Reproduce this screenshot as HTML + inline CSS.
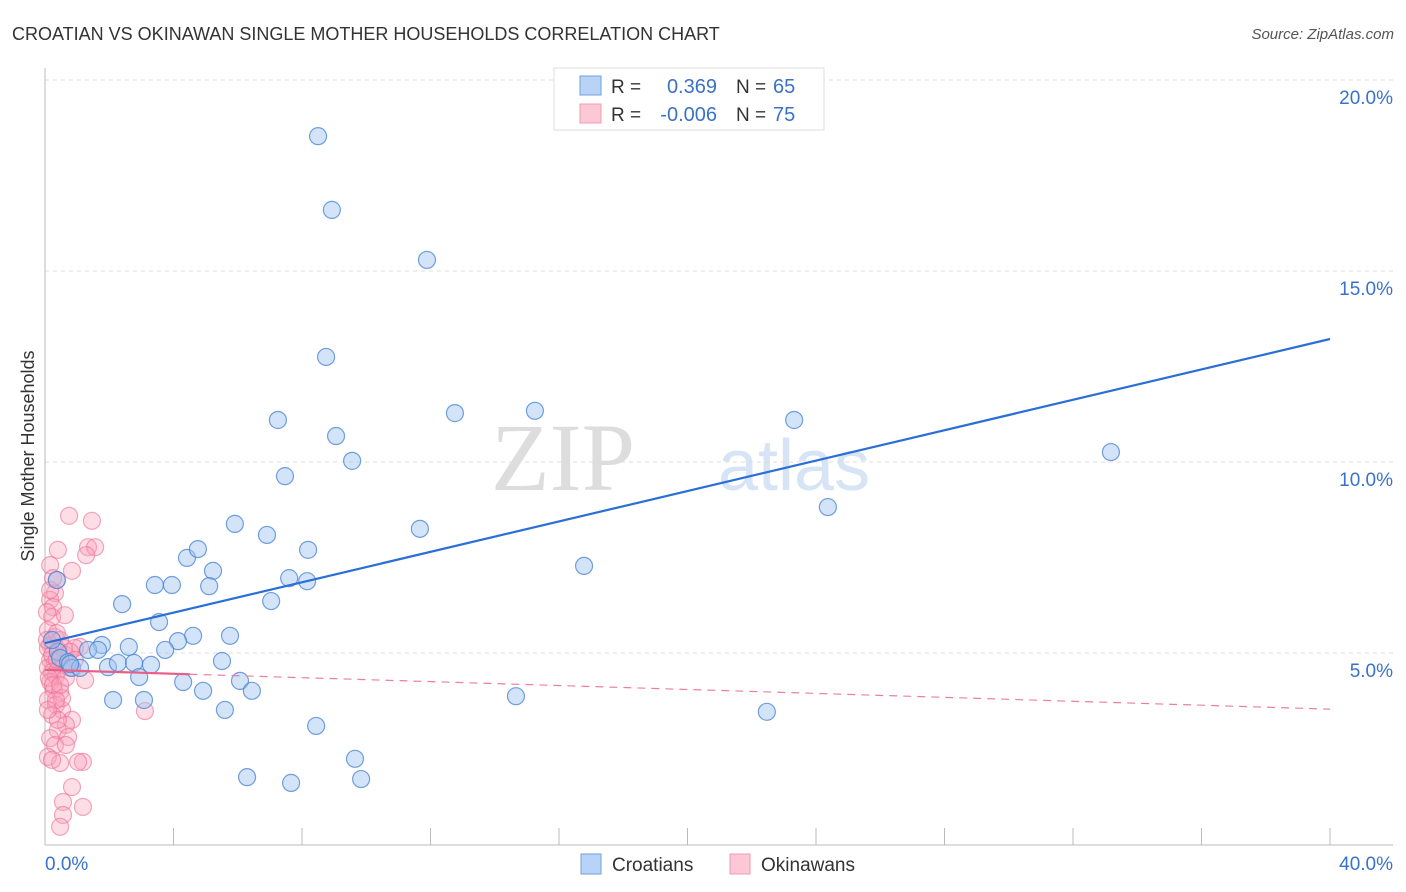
<!DOCTYPE html>
<html><head><meta charset="utf-8"><style>
body{margin:0;background:#fff;font-family:"Liberation Sans",sans-serif;}
svg{display:block}
</style></head><body>
<svg id="chart" width="1406" height="892" xmlns="http://www.w3.org/2000/svg">
<text x="12" y="40" font-size="18" fill="#333">CROATIAN VS OKINAWAN SINGLE MOTHER HOUSEHOLDS CORRELATION CHART</text>
<text x="1394" y="39" font-size="15" fill="#555" font-style="italic" text-anchor="end">Source: ZipAtlas.com</text>
<text x="635" y="490" font-size="96" fill="#ddd" font-family="Liberation Serif,serif" text-anchor="end">ZIP</text>
<text x="718" y="490" font-size="72" fill="#d6e4f5">atlas</text>
<g id="grid"></g>
<g id="axes"></g>
<g id="marks"></g>
<text transform="translate(34,456) rotate(-90)" font-size="18" fill="#333" text-anchor="middle">Single Mother Households</text>
<g>
<rect x="554" y="68" width="270" height="62" fill="#fff" stroke="#ddd"/>
<rect x="580" y="76" width="21" height="19" fill="#b8d3f5" stroke="#6fa0e0"/>
<rect x="580" y="104" width="21" height="19" fill="#fcc8d6" stroke="#f09ab2"/>
<text x="611" y="93" font-size="19" fill="#333">R =</text><text x="717" y="93" font-size="20" fill="#3a72c9" text-anchor="end">0.369</text>
<text x="736" y="93" font-size="19" fill="#333">N =</text><text x="773" y="93" font-size="20" fill="#3a72c9">65</text>
<text x="611" y="121" font-size="19" fill="#333">R =</text><text x="717" y="121" font-size="20" fill="#3a72c9" text-anchor="end">-0.006</text>
<text x="736" y="121" font-size="19" fill="#333">N =</text><text x="773" y="121" font-size="20" fill="#3a72c9">75</text>
</g>
<g>
<rect x="581" y="854" width="20" height="20" fill="#b8d3f5" stroke="#6fa0e0"/>
<text x="612" y="871" font-size="19" fill="#333">Croatians</text>
<rect x="730" y="854" width="20" height="20" fill="#fcc8d6" stroke="#f09ab2"/>
<text x="761" y="871" font-size="19" fill="#333">Okinawans</text>
</g>
</svg>
<script>
const yTicks=[5,10,15,20];
const yTickLabels=["5.0%","10.0%","15.0%","20.0%"];
const xTickLabels=["0.0%","40.0%"];
const blueX=[8.50,8.93,11.89,8.75,7.25,12.76,15.25,23.32,9.06,9.56,33.18,7.47,24.37,5.91,11.67,6.91,4.42,4.76,8.19,5.23,16.78,3.42,3.95,5.11,7.60,8.16,2.40,7.04,3.55,0.37,4.61,4.14,5.76,2.61,1.77,3.74,1.34,1.65,0.40,0.47,0.72,0.84,1.09,1.96,2.27,2.77,3.30,5.51,2.93,4.30,4.92,6.07,6.44,2.12,3.08,14.66,5.60,22.47,8.44,9.65,6.29,7.66,9.84,0.78,0.22];
const blueY=[18.53,16.60,15.29,12.75,11.10,11.28,11.34,11.10,10.68,10.03,10.26,9.63,8.82,8.38,8.25,8.09,7.49,7.72,7.70,7.15,7.28,6.78,6.78,6.75,6.96,6.88,6.28,6.36,5.81,6.91,5.45,5.31,5.45,5.16,5.21,5.08,5.08,5.08,5.03,4.87,4.76,4.61,4.61,4.63,4.74,4.74,4.69,4.79,4.37,4.24,4.01,4.27,4.01,3.77,3.77,3.87,3.51,3.46,3.09,2.23,1.75,1.60,1.70,4.71,5.34];
const pinkX=[0.75,1.46,0.40,1.34,1.56,1.28,0.84,0.16,0.37,0.31,0.16,0.25,0.22,0.09,0.31,0.47,0.16,0.40,0.62,0.16,0.31,0.53,0.09,0.22,0.40,0.78,0.34,0.65,0.16,0.28,0.47,0.09,0.34,0.53,0.22,0.84,0.65,0.40,0.16,0.72,0.31,0.09,0.47,1.18,1.03,0.84,0.56,1.18,0.56,0.47,3.11,1.09,0.93,1.25,0.09,0.22,0.37,0.59,0.12,0.25,0.53,0.06,0.37,0.62,0.16,0.25,0.06,0.78,0.93,0.40,0.65,0.22,0.34,0.09,0.47];
const pinkY=[8.59,8.46,7.70,7.77,7.77,7.56,7.15,7.30,6.91,6.57,6.39,6.20,5.94,5.60,5.42,5.34,5.21,5.08,4.95,4.82,4.76,4.69,4.61,4.50,4.55,4.61,4.40,4.35,4.24,4.03,3.98,3.77,3.64,3.51,3.38,3.25,3.12,2.98,2.77,2.80,2.59,2.28,2.12,2.15,2.15,1.49,1.10,0.97,0.76,0.45,3.48,5.16,5.13,4.29,5.13,4.95,4.82,5.13,4.35,4.16,3.82,5.34,5.52,5.99,6.65,6.96,6.07,5.03,4.82,3.25,2.59,2.20,3.77,3.51,4.16];
const blueLine=[5.26,13.22];
const pinkLine=[4.56,3.53];
const pinkSolidEnd=4.5;
const X0=45,X1=1330,XMAX=40,Y0=844,PXPER=38.2;
const sx=v=>X0+v/XMAX*(X1-X0);
const sy=v=>Y0-v*PXPER;
const NS="http://www.w3.org/2000/svg";
function mk(parent,tag,attrs){const e=document.createElementNS(NS,tag);for(const k in attrs)e.setAttribute(k,attrs[k]);document.getElementById(parent).appendChild(e);return e;}
yTicks.forEach((t,i)=>{
  const g=mk('grid','line',{x1:45,x2:1393,y1:sy(t),y2:sy(t),stroke:'#ddd','stroke-dasharray':'4,4'});
  
  
  const l=mk('axes','text',{x:1393,y:sy(t)+24,'font-size':19,fill:'#3a72c9','text-anchor':'end'});
  l.textContent=yTickLabels[i];
  
  
});
const ya=mk('axes','line',{x1:45,x2:45,y1:68,y2:845,stroke:'#bbb'});


const xa=mk('axes','line',{x1:45,x2:1393,y1:845,y2:845,stroke:'#bbb'});


for(let i=0;i<=10;i++){
  const t=mk('axes','line',{x1:sx(i*4),x2:sx(i*4),y1:828,y2:845,stroke:'#bbb'});
  
  
}
const xl0=mk('axes','text',{x:45,y:870,'font-size':19,fill:'#3a72c9'});
xl0.textContent=xTickLabels[0];


const xl1=mk('axes','text',{x:1393,y:870,'font-size':19,fill:'#3a72c9','text-anchor':'end'});
xl1.textContent=xTickLabels[1];


pinkX.forEach((x,i)=>{
  const c=mk('marks','circle',{cx:sx(x),cy:sy(pinkY[i]),r:8.5,fill:'rgba(248,160,186,0.35)',stroke:'rgba(236,110,150,0.6)','stroke-width':1.2});
  
  
});
blueX.forEach((x,i)=>{
  const c=mk('marks','circle',{cx:sx(x),cy:sy(blueY[i]),r:8.5,fill:'rgba(160,196,240,0.45)',stroke:'rgba(70,130,210,0.75)','stroke-width':1.2});
  
  
});
const bl=mk('marks','line',{x1:sx(0),y1:sy(blueLine[0]),x2:sx(40),y2:sy(blueLine[1]),stroke:'#2a6fd6','stroke-width':2.2});


const pyAt=x=>pinkLine[0]+(pinkLine[1]-pinkLine[0])*x/40;
const pd=mk('marks','line',{x1:sx(pinkSolidEnd),y1:sy(pyAt(pinkSolidEnd)),x2:sx(40),y2:sy(pinkLine[1]),stroke:'#ec7fa0','stroke-width':1.2,'stroke-dasharray':'8,6'});


const ps=mk('marks','line',{x1:sx(0),y1:sy(pinkLine[0]),x2:sx(pinkSolidEnd),y2:sy(pyAt(pinkSolidEnd)),stroke:'#e8608a','stroke-width':2.2});


</script>
</body></html>
